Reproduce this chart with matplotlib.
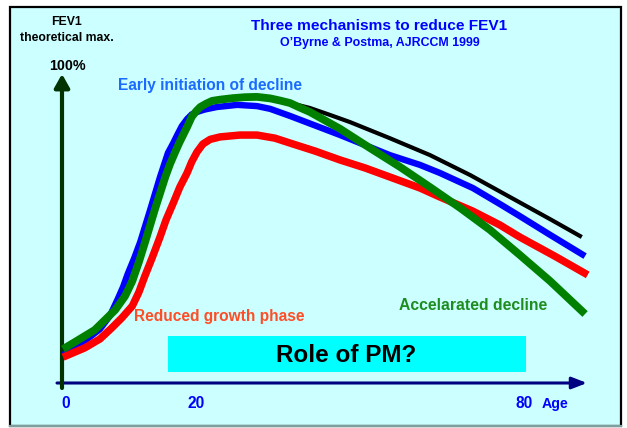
import matplotlib
matplotlib.use("Agg")
import matplotlib.pyplot as plt
from matplotlib.patches import Rectangle

plt.rcParams['font.family'] = ['Liberation Sans', 'DejaVu Sans']
plt.rcParams['font.weight'] = 'bold'

# curves: age (years) vs FEV1 (% of theoretical max)
normal_age = [0, 1.8, 4.8, 7.9, 9.4, 10.5, 11.5, 12.4, 13.9, 15.5, 16.2, 17.0, 17.6,
              18.2, 18.8, 19.5, 20.2, 20.8, 21.7, 22.6, 23.8, 25.8, 27.6, 29.4, 31.4,
              32.9, 34.4, 35.9, 37.4, 40.5, 43.5, 49.5, 55.6, 61.7, 67.7, 73.8, 78.6]
normal_fev = [11.0, 13.3, 17.2, 23.7, 28.2, 33.1, 39.3, 45.5, 56.2, 66.9, 71.0, 75.0, 77.9,
              80.5, 83.1, 86.4, 88.3, 89.6, 90.7, 91.6, 92.0, 92.5, 92.8, 92.9, 92.4,
              91.7, 90.9, 90.1, 89.3, 87.0, 84.7, 79.5, 74.0, 67.5, 60.4, 53.2, 47.4]

early_age = [0, 2.9, 5.6, 7.1, 8.3, 9.1, 9.8, 10.8, 11.7, 13.2, 14.7, 15.9, 16.7,
             17.3, 18.0, 18.8, 19.5, 20.3, 21.5, 23.3, 26.4, 29.4, 31.4, 34.4, 42.0,
             49.5, 54.1, 57.1, 62.1, 66.2, 69.2, 73.8, 79.1]
early_fev = [9.1, 13.0, 17.5, 21.8, 27.3, 31.2, 35.4, 40.6, 45.8, 56.2, 66.9, 74.7, 77.9,
             80.5, 83.4, 85.7, 87.2, 88.0, 88.8, 89.6, 90.3, 89.9, 89.0, 86.7, 80.5,
             74.0, 70.8, 68.2, 63.3, 58.1, 54.2, 48.1, 41.2]

reduced_age = [0, 3.3, 5.6, 7.4, 8.9, 10.5, 11.5, 12.4, 13.5, 14.7, 15.6, 16.7, 17.7,
               18.8, 19.5, 20.3, 21.2, 22.3, 23.8, 26.8, 29.4, 32.1, 34.4, 38.2, 42.0,
               45.8, 49.5, 54.1, 57.1, 62.1, 66.2, 69.2, 74.5, 79.5]
reduced_fev = [8.4, 11.4, 14.3, 17.9, 21.1, 25.0, 29.5, 34.7, 40.6, 47.4, 52.9, 58.4, 63.6,
               68.2, 71.8, 75.0, 77.6, 79.1, 79.9, 80.5, 80.5, 79.5, 77.9, 75.3, 72.4,
               69.8, 66.9, 63.3, 60.4, 55.8, 51.3, 47.4, 41.2, 35.1]

accel_age = normal_age[:27] + [35.9, 37.4, 42.0, 46.5, 51.1, 55.6, 60.2, 64.7, 69.2, 73.8, 79.1]
accel_fev = normal_fev[:27] + [89.4, 88.0, 82.5, 76.3, 70.1, 63.6, 56.8, 49.7, 41.6, 33.1, 22.4]

age_labels = ['0', '20', '80']

fig = plt.figure(figsize=(6.27, 4.28), dpi=100)

# slide background, pixel coordinates
bg = fig.add_axes([0, 0, 1, 1])
bg.set_xlim(0, 627)
bg.set_ylim(428, 0)
bg.axis('off')
bg.add_patch(Rectangle((10, 7), 611, 419, facecolor='#CCFFFF', edgecolor='black', lw=1.6))
bg.plot([10, 621], [426, 426], color='#7f9f9f', lw=1.6)
bg.add_patch(Rectangle((168, 336), 358, 36, facecolor='#00FFFF', edgecolor='none'))
bg.text(346, 355, 'Role of PM?', ha='center', va='center', fontsize=17.5, color='black')

bg.annotate('', xy=(587, 383), xytext=(57, 383),
            arrowprops=dict(arrowstyle='-|>,head_length=0.9,head_width=0.35',
                            lw=2.2, color='#000080', shrinkA=0, shrinkB=0))
bg.annotate('', xy=(62, 74), xytext=(62, 388),
            arrowprops=dict(arrowstyle='-|>,head_length=0.8,head_width=0.45',
                            lw=3, color='#003300', shrinkA=0, shrinkB=0))

bg.text(67, 22, 'FEV1', ha='center', va='center', fontsize=8.8)
bg.text(67, 38, 'theoretical max.', ha='center', va='center', fontsize=8.8)
bg.text(67, 66, '100%', ha='center', va='center', fontsize=10.3)
bg.text(379, 26, 'Three mechanisms to reduce FEV1', ha='center', va='center',
        fontsize=11.1, color='#0000FF')
bg.text(380, 43, 'O\u2019Byrne & Postma, AJRCCM 1999', ha='center', va='center',
        fontsize=8.9, color='#0000FF')
bg.text(210, 85, 'Early initiation of decline', ha='center', va='center',
        fontsize=11.2, color='#1C6BFF')
bg.text(219, 316, 'Reduced growth phase', ha='center', va='center',
        fontsize=11.2, color='#FF4D26')
bg.text(473, 305, 'Accelarated decline', ha='center', va='center',
        fontsize=11.3, color='#1E8C1E')

for lab, x in zip(age_labels, [66, 196, 524]):
    bg.text(x, 403, lab, ha='center', va='center', fontsize=11.2, color='#0000FF')
bg.text(555, 404, 'Age', ha='center', va='center', fontsize=10.2, color='#0000FF')

# data axes: age 0 at x=63px, 6.6 px/year; 0% at y=383px, 100% at y=75px
ax = fig.add_axes([63 / 627, 45 / 428, 82 * 6.6 / 627, 308 / 428])
ax.set_xlim(0, 82)
ax.set_ylim(0, 100)
ax.axis('off')
ax.patch.set_alpha(0)

kw = dict(solid_capstyle='butt', solid_joinstyle='round', clip_on=False)
ax.plot(normal_age, normal_fev, color='black', lw=3, **kw)
ax.plot(early_age, early_fev, color='#0000FF', lw=4.6, **kw)
ax.plot(reduced_age, reduced_fev, color='#FF0000', lw=5.4, **kw)
ax.plot(accel_age, accel_fev, color='#008000', lw=5.6, **kw)

fig.savefig('out.png', dpi=100)
